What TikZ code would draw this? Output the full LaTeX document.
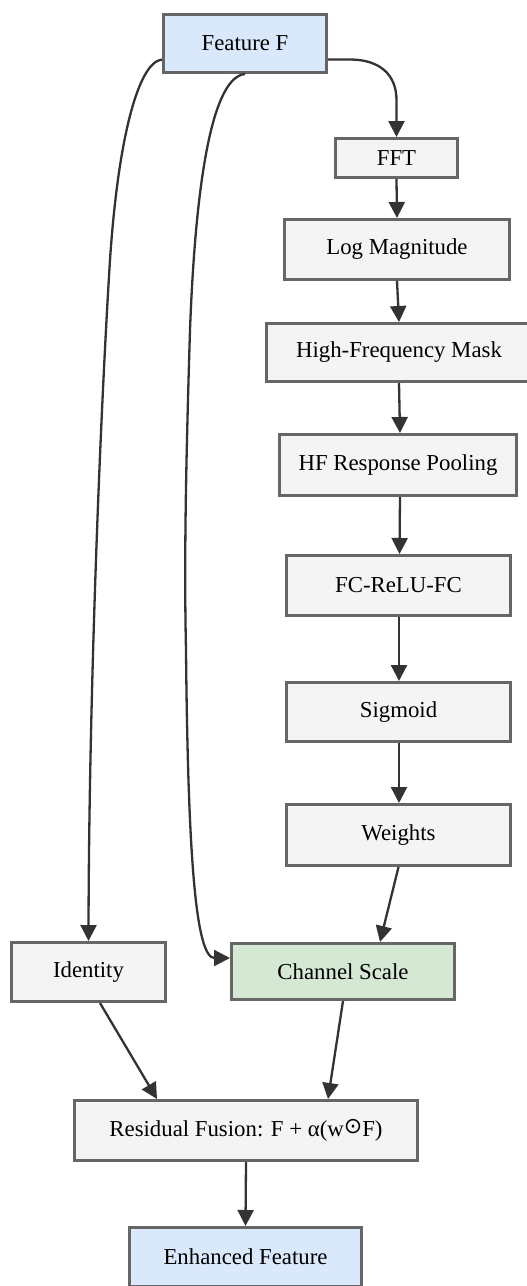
\documentclass[tikz,border=0pt]{standalone}
\usepackage{fontspec}
\setmainfont{Liberation Serif}
\newfontfamily\dejavusym{DejaVu Sans}
\usetikzlibrary{arrows.meta}
\definecolor{bordergray}{HTML}{666666}
\definecolor{boxgray}{HTML}{F4F4F4}
\definecolor{boxblue}{HTML}{DAE8FC}
\definecolor{boxgreen}{HTML}{D5E8D4}
\definecolor{edgecol}{HTML}{333333}
\tikzset{
  box/.style={draw=bordergray, line width=3.3pt, fill=boxgray, inner sep=0pt,
    font=\fontsize{22.8}{27}\selectfont, text=black},
  conn/.style={draw=edgecol, line width=2.3pt, -{Triangle[length=16pt,width=16pt]}},
}
\newcommand{\boxat}[6]{% name, x, y, w, h, text
  \node[box, minimum width=#4pt, minimum height=#5pt] (#1) at (#2,#3) {#6};}
\begin{document}
\begin{tikzpicture}[x=1pt,y=-1pt]
\useasboundingbox (0,0) rectangle (527,1286);
\node[box, fill=boxblue, minimum width=162.7pt, minimum height=57.7pt] (feat) at (245,43.5) {Feature F};
\boxat{fft}{396.5}{158}{121.7}{38.7}{FFT}
\boxat{logm}{397}{249.5}{224.7}{59.7}{Log Magnitude}
\boxat{hfm}{399}{352.5}{264.7}{57.7}{High-Frequency Mask}
\boxat{hfp}{398}{465}{236.7}{60.7}{HF Response Pooling}
\boxat{fc}{398.5}{585.5}{223.7}{59.7}{FC-ReLU-FC}
\boxat{sig}{398.5}{712}{223.7}{58.7}{Sigmoid}
\boxat{wts}{398.5}{835}{223.7}{60.7}{Weights}
\boxat{id}{88.5}{972}{153.7}{58.7}{Identity}
\node[box, fill=boxgreen, minimum width=222.7pt, minimum height=55.7pt] (cs) at (343,971.5) {Channel Scale};
\boxat{res}{246}{1130.5}{342.7}{59.7}{Residual Fusion: F + α(w{\dejavusym\fontsize{22}{26}\selectfont\raisebox{2.5pt}{⊙}}F)}
\node[box, fill=boxblue, minimum width=231.7pt, minimum height=58.7pt] (enh) at (245.5,1257) {Enhanced Feature};
% connectors
\draw[conn] ([yshift=-16pt]feat.east) -- (350,59.5) .. controls (380,59.5) and (396.5,75) .. (396.5,100) -- (fft.north);
\draw[conn] ([yshift=-16pt]feat.west) .. controls (138,62) and (118,140) .. (110,260)
   .. controls (100,420) and (89,700) .. (id.north);
\draw[conn] (feat.south) .. controls (214,77) and (196,170) .. (190,330)
   .. controls (186,460) and (184,560) .. (186,650)
   .. controls (188,860) and (196,958) .. ([yshift=13.5pt]cs.west);
\draw[conn] (fft.south) -- (logm.north);
\draw[conn] (logm.south) -- (hfm.north);
\draw[conn] (hfm.south) -- ([xshift=2pt]hfp.north);
\draw[conn] ([xshift=2pt]hfp.south) -- ([xshift=1pt]fc.north);
\draw[conn] ([xshift=0.5pt]fc.south) -- ([xshift=0.5pt]sig.north);
\draw[conn] ([xshift=0.5pt]sig.south) -- ([xshift=0.5pt]wts.north);
\draw[conn] (wts.south) -- ([xshift=37pt]cs.north);
\draw[conn] ([xshift=11.5pt]id.south) -- ([xshift=-89pt]res.north);
\draw[conn] (cs.south) -- ([xshift=82pt]res.north);
\draw[conn] (res.south) -- (enh.north);
\end{tikzpicture}
\end{document}
